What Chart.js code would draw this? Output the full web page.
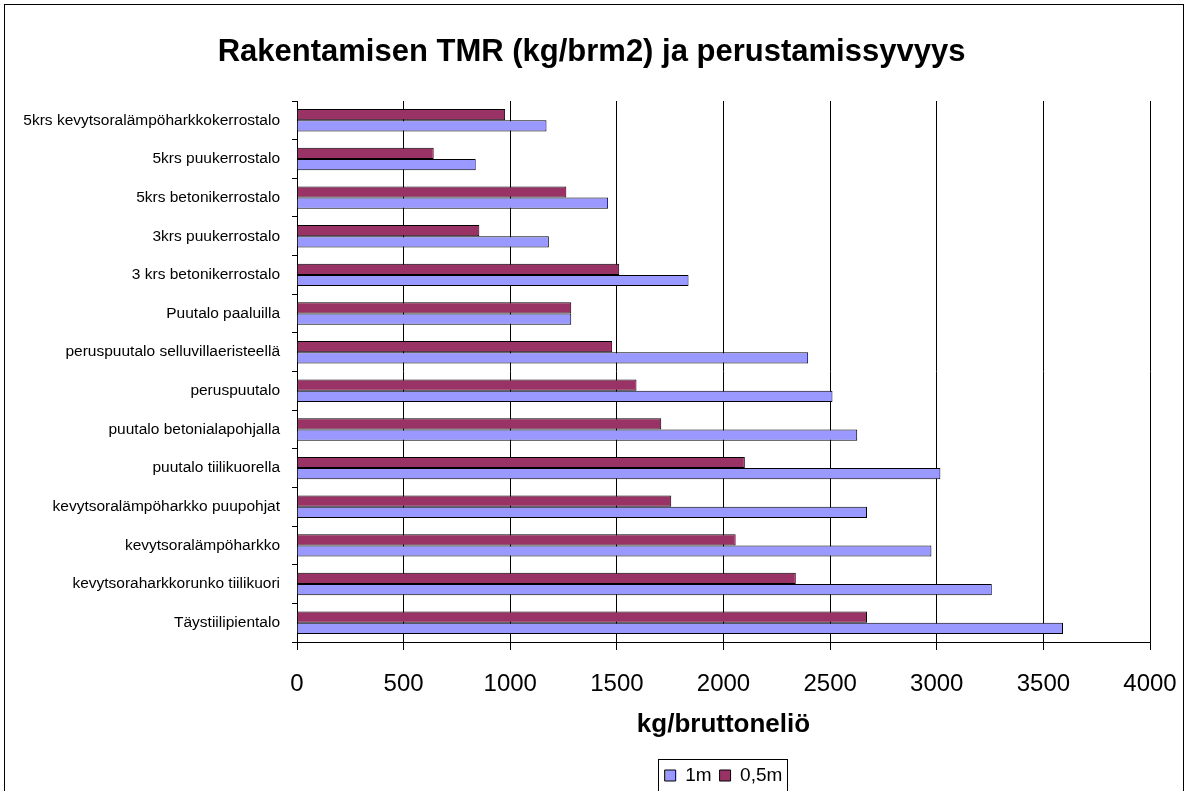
<!DOCTYPE html>
<html>
<head>
<meta charset="utf-8">
<script src="https://cdn.jsdelivr.net/npm/chart.js@4"></script>
<style>
  html, body { margin: 0; padding: 0; background: #fff; overflow: hidden; }
  #frame {
    position: absolute; left: 4px; top: 4px;
    width: 1178px; height: 900px;
    border: 1px solid #000;
  }
  canvas { display: block; }
</style>
</head>
<body>
<div id="frame">
  <canvas id="tmrChart" width="1178" height="840"></canvas>
</div>
<script>
// Chart data, categories listed top to bottom as in the picture
const categories = [
    '5krs kevytsoralämpöharkkokerrostalo',
    '5krs puukerrostalo',
    '5krs betonikerrostalo',
    '3krs puukerrostalo',
    '3 krs betonikerrostalo',
    'Puutalo paaluilla',
    'peruspuutalo selluvillaeristeellä',
    'peruspuutalo',
    'puutalo betonialapohjalla',
    'puutalo tiilikuorella',
    'kevytsoralämpöharkko puupohjat',
    'kevytsoralämpöharkko',
    'kevytsoraharkkorunko tiilikuori',
    'Täystiilipientalo'
];
const depth1m = [1170, 838, 1459, 1181, 1836, 1286, 2397, 2511, 2627, 3017, 2673, 2975, 3258, 3592];
const depth05m = [976, 641, 1263, 855, 1511, 1286, 1478, 1592, 1708, 2100, 1755, 2057, 2339, 2673];
const xMin = 0;
const xMax = 4000;
const xStep = 500;

const FONT = "Arial, 'Liberation Sans', sans-serif";

// centre the legend under the plot area and draw its frame
const legendFrame = {
    id: 'legendFrame',
    afterLayout(chart) {
        const lg = chart.legend;
        if (!lg) return;
        const area = chart.chartArea;
        const shift = (area.left + area.right) / 2 - (lg.left + lg.right) / 2;
        lg.left += shift;
        lg.right += shift;
    },
    afterDraw(chart) {
        const boxes = chart.legend && chart.legend.legendHitBoxes;
        if (!boxes || !boxes.length) return;
        const ctx = chart.ctx;
        let left = Infinity, right = -Infinity;
        boxes.forEach(b => {
            left = Math.min(left, b.left);
            right = Math.max(right, b.left + b.width);
        });
        const top = boxes[0].top - 7;
        ctx.save();
        ctx.strokeStyle = '#000';
        ctx.lineWidth = 1;
        ctx.strokeRect(Math.round(left - 7) + 0.5, Math.round(top) + 0.5,
            Math.round(right - left + 11), 60);
        ctx.restore();
    }
};

const ctx = document.getElementById('tmrChart').getContext('2d');
new Chart(ctx, {
    type: 'bar',
    data: {
        labels: categories,
        datasets: [
            {
                label: '0,5m',
                data: depth05m,
                backgroundColor: '#993366',
                borderColor: '#000',
                borderWidth: 1,
                categoryPercentage: 0.58,
                barPercentage: 1.0
            },
            {
                label: '1m',
                data: depth1m,
                backgroundColor: '#9999FF',
                borderColor: '#000',
                borderWidth: 1,
                categoryPercentage: 0.58,
                barPercentage: 1.0
            }
        ]
    },
    options: {
        indexAxis: 'y',
        responsive: false,
        animation: false,
        devicePixelRatio: 1,
        layout: { padding: { left: 0, right: 5, top: 0, bottom: 50 } },
        plugins: {
            title: {
                display: true,
                text: 'Rakentamisen TMR (kg/brm2) ja perustamissyvyys',
                color: '#000',
                font: { family: FONT, size: 31, weight: 'bold' },
                padding: { top: 28.4, bottom: 30.4 }
            },
            legend: {
                position: 'bottom',
                reverse: true,
                labels: {
                    color: '#000',
                    font: { family: FONT, size: 19 },
                    boxWidth: 11,
                    boxHeight: 11,
                    padding: 8
                }
            },
            tooltip: { enabled: false }
        },
        scales: {
            x: {
                min: xMin,
                max: xMax,
                ticks: {
                    stepSize: xStep,
                    color: '#000',
                    font: { family: FONT, size: 24 },
                    padding: 19.6,
                    maxRotation: 0,
                    callback: v => String(v)
                },
                grid: {
                    color: '#000',
                    lineWidth: 1,
                    tickLength: 8,
                    tickColor: '#000'
                },
                border: { display: true, color: '#000', width: 1 },
                title: {
                    display: true,
                    text: 'kg/bruttoneliö',
                    color: '#000',
                    font: { family: FONT, size: 26, weight: 'bold' },
                    padding: { top: 0, bottom: 17.4 }
                },
                afterFit: s => {
                    s.height = 116;
                    s.paddingLeft = 0;
                    s.paddingRight = 33;
                }
            },
            y: {
                ticks: {
                    color: '#000',
                    font: { family: FONT, size: 15.5 },
                    padding: 12,
                    autoSkip: false
                },
                grid: {
                    offset: true,
                    drawOnChartArea: false,
                    tickLength: 5,
                    color: '#000'
                },
                border: { display: true, color: '#000', width: 1 },
                afterFit: s => { s.width = 292; }
            }
        }
    },
    plugins: [legendFrame]
});
</script>
</body>
</html>
